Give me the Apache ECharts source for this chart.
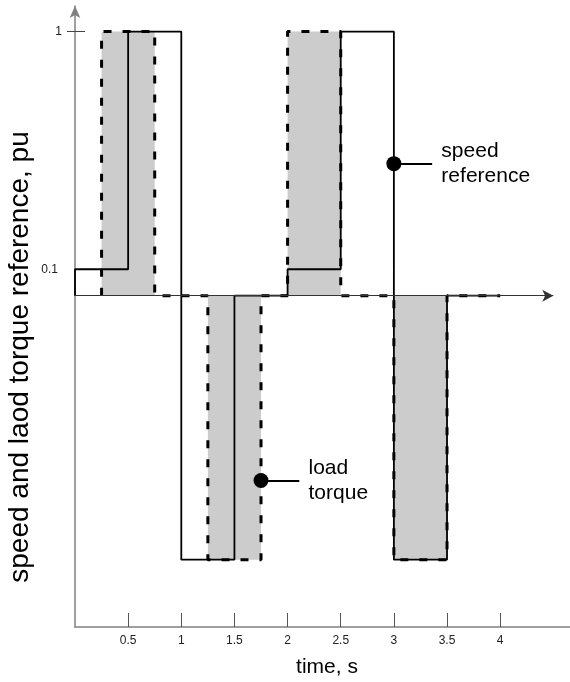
<!DOCTYPE html>
<html>
<head>
<meta charset="utf-8">
<script src="https://cdn.jsdelivr.net/npm/echarts@6/dist/echarts.min.js"></script>
<style>
html,body{margin:0;padding:0;background:#fff;}
#chart{width:570px;height:682px;}
</style>
</head>
<body>
<div id="chart"></div>
<script>
// ---- data ----
const speedTime = [0, 0, 0.5, 1.0, 1.5, 2.0, 2.5, 3.0, 3.5, 4.0];
const speedRef  = [0, 0.1, 1, -1, 0, 0.1, 1, -1, 0, 0];
const torqueTime = [0.25, 0.25, 0.75, 1.25, 1.75, 2.0, 2.5, 3.0, 3.5, 4.0];
const loadTorque = [0, 1, 0, -1, 0, 1, 0, -1, 0, 0];
const xTickValues = [0.5, 1, 1.5, 2, 2.5, 3, 3.5, 4];
const yTickValues = [0.1, 1];
const annotTime = [3.0, 1.75];
const annotValue = [0.5, -0.7];
const annotEndTime = [3.36, 2.11];
const annotText = ['speed\nreference', 'load\ntorque'];
const axisArrowEnd = 4.5;

const xMin = 0, xMax = 4.657, yMin = -1.255, yMax = 1.097;
const FONT = 'Liberation Sans, Arial, sans-serif';

const speedData = speedTime.map((t, i) => [t, speedRef[i]]);
const torqueData = torqueTime.map((t, i) => [t, loadTorque[i]]);

const chart = echarts.init(document.getElementById('chart'), null, {renderer: 'canvas'});
const option = {
  animation: false,
  backgroundColor: '#ffffff',
  grid: {left: 75, right: 0, top: 6, bottom: 55, containLabel: false},
  xAxis: {
    type: 'value', min: xMin, max: xMax, position: 'bottom',
    axisLine: {show: true, onZero: false, lineStyle: {color: '#808080', width: 1.5}},
    axisTick: {show: true, inside: true, length: 14, customValues: xTickValues, lineStyle: {color: '#555', width: 1}},
    axisLabel: {show: true, customValues: xTickValues, margin: 8, fontSize: 12, color: '#222', fontFamily: FONT},
    splitLine: {show: false}
  },
  yAxis: [{
    type: 'value', min: yMin, max: yMax, position: 'left',
    axisLine: {show: true, onZero: false, symbol: ['none', 'arrow'], symbolSize: [8, 12], lineStyle: {color: '#808080', width: 1.5}},
    axisTick: {show: true, inside: false, length: 8, customValues: [yTickValues[1]], lineStyle: {color: '#444', width: 1}},
    axisLabel: {show: true, customValues: [yTickValues[1]], margin: 13, fontSize: 12, color: '#222', fontFamily: FONT},
    splitLine: {show: false}
  }, {
    type: 'value', min: yMin, max: yMax, position: 'left', offset: 0,
    axisLine: {show: false},
    axisTick: {show: true, inside: true, length: 10, customValues: [yTickValues[1]], lineStyle: {color: '#444', width: 1}},
    axisLabel: {show: true, customValues: [yTickValues[0]], margin: 17, fontSize: 12, color: '#222', fontFamily: FONT},
    splitLine: {show: false}
  }],
  series: [
    {
      name: 'load torque area', type: 'line', data: torqueData, step: 'end',
      showSymbol: false, symbol: 'none', z: 1, silent: true,
      lineStyle: {width: 0, opacity: 0},
      areaStyle: {color: '#cccccc', opacity: 1}
    },
    {
      name: 'speed reference', type: 'line', data: speedData, step: 'end',
      showSymbol: false, symbol: 'none', z: 3, silent: true,
      lineStyle: {color: '#000', width: 1.8},
      markLine: {
        silent: true, symbol: ['none', 'arrow'], symbolSize: [9, 11],
        label: {show: false},
        lineStyle: {color: '#333', width: 1.2, type: 'solid'},
        data: [[{coord: [0, 0]}, {coord: [axisArrowEnd, 0]}]]
      }
    },
    {
      name: 'load torque', type: 'line', data: torqueData, step: 'end',
      showSymbol: false, symbol: 'none', z: 4, silent: true,
      lineStyle: {color: '#000', width: 3, type: [8, 11], cap: 'butt'}
    },
    {
      name: 'leaders', type: 'lines', coordinateSystem: 'cartesian2d', z: 5, silent: true,
      lineStyle: {color: '#000', width: 2, opacity: 1},
      data: annotTime.map((t, i) => ({coords: [[t, annotValue[i]], [annotEndTime[i], annotValue[i]]]}))
    },
    {
      name: 'annotations', type: 'scatter', z: 6, silent: true,
      symbol: 'circle', symbolSize: 15,
      itemStyle: {color: '#000', opacity: 1},
      data: annotTime.map((t, i) => ({value: [t, annotValue[i]], label: {formatter: annotText[i]}})),
      label: {
        show: true, position: 'right', distance: 40,
        fontSize: 21, lineHeight: 25, color: '#000', fontFamily: FONT, align: 'left'
      }
    }
  ],
  graphic: [
    {type: 'text', x: 20, y: 357, rotation: Math.PI / 2, z: 10,
      style: {text: 'speed and laod torque reference, pu', font: '28px ' + FONT, fill: '#000', textAlign: 'center', textVerticalAlign: 'middle'}},
    {type: 'text', x: 327, y: 667, z: 10,
      style: {text: 'time, s', font: '21px ' + FONT, fill: '#000', textAlign: 'center', textVerticalAlign: 'middle'}}
  ]
};
chart.setOption(option);
</script>
</body>
</html>
